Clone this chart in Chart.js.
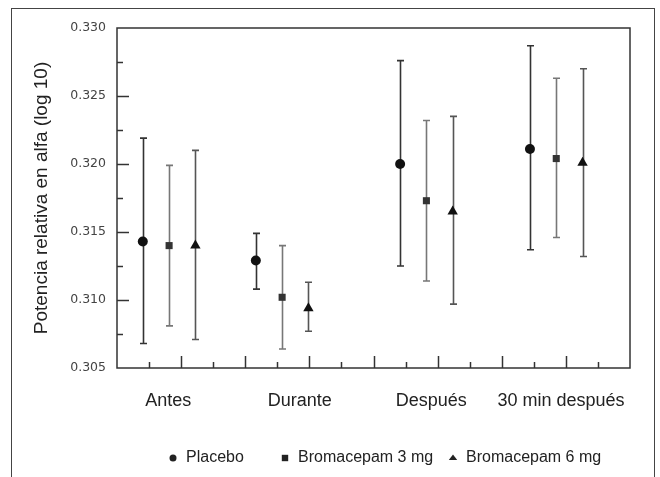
<!DOCTYPE html>
<html>
<head>
<meta charset="utf-8">
<script src="https://cdn.jsdelivr.net/npm/chart.js@4/dist/chart.umd.min.js"></script>
<style>
  html, body { margin: 0; padding: 0; background: #fff; }
  #wrap { position: relative; width: 660px; height: 477px; overflow: hidden; }
  #frame { position: absolute; left: 11px; top: 8px; width: 642px; height: 520px;
           border: 1.5px solid #444; border-bottom: none; pointer-events: none; }
  canvas { position: absolute; left: 0; top: 0; }
</style>
</head>
<body>
<div id="wrap">
  <canvas id="chart" width="660" height="477"></canvas>
  <div id="frame"></div>
</div>
<script>
const categories = ['Antes', 'Durante', 'Después', '30 min después'];
// category positions on the 0..16 x axis
const groupX = [1.625, 5.15, 9.65, 13.7];
const labelX = [1.6, 5.7, 9.8, 13.85];
const seriesOffset = [-0.82, 0, 0.82];

const seriesNames = ['Placebo', 'Bromacepam 3 mg', 'Bromacepam 6 mg'];

const placebo   = [0.3143, 0.3129, 0.3200, 0.3211];
const placeboLo = [0.3068, 0.3108, 0.3125, 0.3137];
const placeboHi = [0.3219, 0.3149, 0.3276, 0.3287];

const bromo3   = [0.3140, 0.3102, 0.3173, 0.3204];
const bromo3Lo = [0.3081, 0.3064, 0.3114, 0.3146];
const bromo3Hi = [0.3199, 0.3140, 0.3232, 0.3263];

const bromo6   = [0.3140, 0.3094, 0.3165, 0.3201];
const bromo6Lo = [0.3071, 0.3077, 0.3097, 0.3132];
const bromo6Hi = [0.3210, 0.3113, 0.3235, 0.3270];

const yMin = 0.305;
const yMax = 0.330;
const yStep = 0.005;

const means = [placebo, bromo3, bromo6];
const lows = [placeboLo, bromo3Lo, bromo6Lo];
const highs = [placeboHi, bromo3Hi, bromo6Hi];
const pointStyles = ['circle', 'rect', 'triangle'];
const markerColors = ['#111', '#333', '#111'];
const barColors = ['#333', '#777', '#555'];
// legend marker x positions (px)
const legendX = [173, 285, 453];

function drawMarker(ctx, style, x, y, r) {
    ctx.beginPath();
    if (style === 'circle') {
        ctx.arc(x, y, r, 0, Math.PI * 2);
    } else if (style === 'rect') {
        ctx.rect(x - r, y - r, r * 2, r * 2);
    } else {
        ctx.moveTo(x, y - r);
        ctx.lineTo(x + r * 1.2, y + r * 0.6);
        ctx.lineTo(x - r * 1.2, y + r * 0.6);
        ctx.closePath();
    }
    ctx.fill();
}

const framePlugin = {
    id: 'frameAndBars',
    beforeDatasetsDraw(chart) {
        const { ctx, chartArea: a, scales: { x, y } } = chart;
        ctx.save();
        ctx.strokeStyle = '#333';
        ctx.lineWidth = 1.5;
        ctx.strokeRect(a.left, a.top, a.right - a.left, a.bottom - a.top);

        // inward ticks on y axis
        for (let k = 1; k < 10; k++) {
            const py = Math.round(y.getPixelForValue(yMin + k * yStep / 2)) + 0.5;
            const len = k % 2 === 0 ? 12 : 6;
            ctx.beginPath();
            ctx.moveTo(a.left, py);
            ctx.lineTo(a.left + len, py);
            ctx.stroke();
        }
        // inward ticks on x axis
        for (let i = 1; i < 16; i++) {
            const px = Math.round(x.getPixelForValue(i)) + 0.5;
            const len = i % 2 === 0 ? 12 : 6;
            ctx.beginPath();
            ctx.moveTo(px, a.bottom);
            ctx.lineTo(px, a.bottom - len);
            ctx.stroke();
        }

        // error bars
        chart.data.datasets.forEach((ds, di) => {
            ctx.strokeStyle = barColors[di];
            ctx.lineWidth = 1.6;
            ds.data.forEach((pt, i) => {
                const px = Math.round(x.getPixelForValue(pt.x)) + 0.5;
                const top = y.getPixelForValue(highs[di][i]);
                const bot = y.getPixelForValue(lows[di][i]);
                ctx.beginPath();
                ctx.moveTo(px, top);
                ctx.lineTo(px, bot);
                ctx.moveTo(px - 3.5, top);
                ctx.lineTo(px + 3.5, top);
                ctx.moveTo(px - 3.5, bot);
                ctx.lineTo(px + 3.5, bot);
                ctx.stroke();
            });
        });
        ctx.restore();
    },
    afterDraw(chart) {
        const { ctx } = chart;
        ctx.save();
        ctx.font = '16px "Liberation Sans", Arial, sans-serif';
        ctx.textBaseline = 'middle';
        const cy = 458;
        seriesNames.forEach((name, i) => {
            ctx.fillStyle = '#222';
            drawMarker(ctx, pointStyles[i], legendX[i], cy, i === 1 ? 3.2 : 3.5);
            ctx.fillText(name, legendX[i] + 13, cy);
        });
        ctx.restore();
    }
};

const datasets = seriesNames.map((name, di) => ({
    label: name,
    data: means[di].map((v, i) => ({ x: groupX[i] + seriesOffset[di], y: v })),
    pointStyle: pointStyles[di],
    pointRadius: di === 2 ? 6 : 5,
    pointHoverRadius: di === 2 ? 6 : 5,
    backgroundColor: markerColors[di],
    borderColor: markerColors[di],
    borderWidth: 0,
}));

new Chart(document.getElementById('chart'), {
    type: 'scatter',
    data: { datasets },
    options: {
        responsive: false,
        animation: false,
        devicePixelRatio: 1,
        layout: { padding: { top: 28, right: 30, bottom: 49, left: 0 } },
        plugins: {
            legend: { display: false },
            tooltip: { enabled: false },
        },
        scales: {
            x: {
                type: 'linear',
                min: 0,
                max: 16,
                grid: { display: false, drawTicks: false },
                border: { display: false },
                afterBuildTicks: (s) => { s.ticks = labelX.map((v) => ({ value: v })); },
                afterFit: (s) => { s.height = 60; },
                ticks: {
                    autoSkip: false,
                    maxRotation: 0,
                    padding: 22,
                    color: '#222',
                    font: { family: "'Liberation Sans', Arial, sans-serif", size: 18 },
                    callback: (v, i) => categories[i],
                },
            },
            y: {
                min: yMin,
                max: yMax,
                grid: { display: false, drawTicks: false },
                border: { display: false },
                afterFit: (s) => { s.width = 117; },
                ticks: {
                    stepSize: yStep,
                    padding: 11,
                    color: '#444',
                    font: { family: "'DejaVu Sans', sans-serif", size: 12.5 },
                    callback: (v) => v.toFixed(3),
                },
                title: {
                    display: true,
                    text: 'Potencia relativa en alfa (log 10)',
                    color: '#222',
                    padding: { top: 30, bottom: 0 },
                    font: { family: "'Liberation Sans', Arial, sans-serif", size: 19, weight: 'normal' },
                },
            },
        },
    },
    plugins: [framePlugin],
});
</script>
</body>
</html>
